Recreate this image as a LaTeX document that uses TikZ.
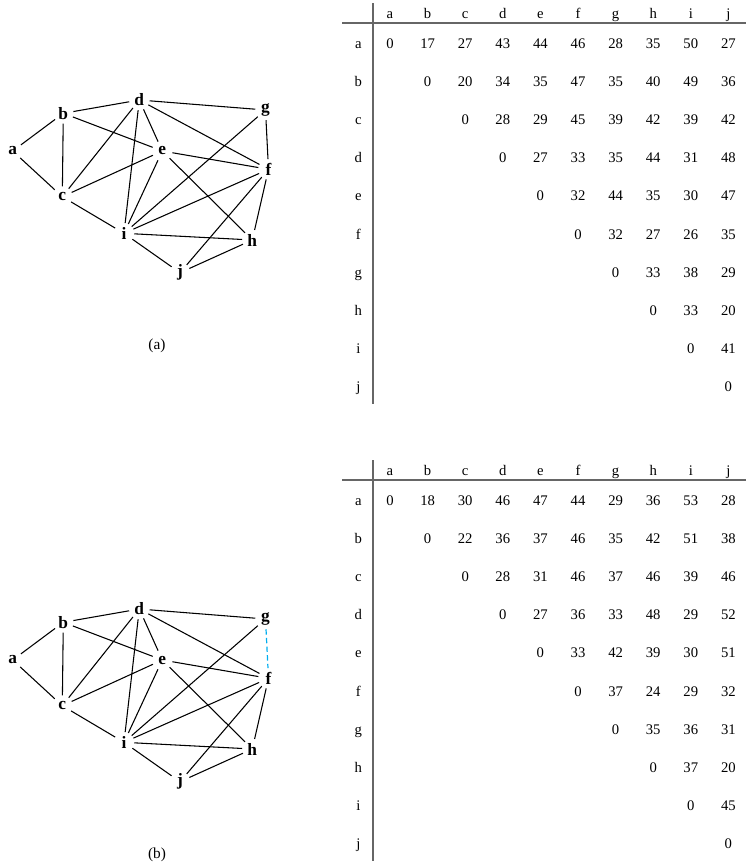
\documentclass[tikz,border=0pt]{standalone}
\usepackage{fontspec}
\setmainfont{Liberation Serif}
\usetikzlibrary{positioning}

\begin{document}
\begin{tikzpicture}[
        x=0.75pt, y=-0.75pt,
        vtx/.style={circle, inner sep=0pt, minimum size=15pt,
            font=\fontsize{13}{15}\selectfont\bfseries},
        edge/.style={line width=0.8pt},
        newedge/.style={cyan, line width=0.9pt, dash pattern=on 4pt off 2.5pt},
        cell/.style={anchor=base, inner sep=0pt, font=\fontsize{11}{13}\selectfont},
        rule/.style={draw=black!60, line width=1pt},
        capt/.style={font=\fontsize{11.5}{14}\selectfont}
    ]
    \useasboundingbox (0,0) rectangle (746,868);

    % the two graphs
    \foreach \p/\off in {ga/0, gb/509} {
        \foreach \n/\x/\y in {a/12.7/151, b/63.3/113.3, c/62.3/196.7, d/139.3/100,
                e/162.3/151, f/268.5/169.3, g/265.5/110, h/252.3/240,
                i/124/233.3, j/180/272.7}
            \node[vtx] (\p\n) at (\x,\y+\off) {\n};
        \foreach \u/\v in {a/b, a/c, b/c, b/d, b/e, c/d, c/e, c/i, d/g, d/e, d/f,
                d/i, e/f, e/i, e/h, g/i, f/i, f/j, f/h, i/h, i/j, j/h}
            \draw[edge] (\p\u) -- (\p\v);
    }
    \draw[edge] (gag) -- (gaf);
    \draw[newedge] (gbg) -- (gbf);

    \node[capt] (capa) at (157,346) {(a)};
    \node[capt] (capb) at (157,855) {(b)};

    % the two distance tables
    \foreach \t/\off/\rows in {
            ta/0/{a/{0,17,27,43,44,46,28,35,50,27}, b/{0,20,34,35,47,35,40,49,36},
                c/{0,28,29,45,39,42,39,42}, d/{0,27,33,35,44,31,48},
                e/{0,32,44,35,30,47}, f/{0,32,27,26,35}, g/{0,33,38,29},
                h/{0,33,20}, i/{0,41}, j/{0}},
            tb/457/{a/{0,18,30,46,47,44,29,36,53,28}, b/{0,22,36,37,46,35,42,51,38},
                c/{0,28,31,46,37,46,39,46}, d/{0,27,36,33,48,29,52},
                e/{0,33,42,39,30,51}, f/{0,37,24,29,32}, g/{0,35,36,31},
                h/{0,37,20}, i/{0,45}, j/{0}}} {
        \draw[rule] (373,3+\off) -- (373,404+\off);
        \draw[rule] (342,23+\off) -- (746,23+\off);
        \foreach \h [count=\hi from 0] in {a,b,c,d,e,f,g,h,i,j}
            \node[cell] (\t-top-\h) at (390+37.6*\hi,18.5+\off) {\h};
        \foreach \r/\vals [count=\ri from 0] in \rows {
            \node[cell] (\t-\r) at (358.3,48+38.2*\ri+\off) {\r};
            \foreach \v [count=\ci from \ri] in \vals
                \node[cell] (\t-\r-\ci) at (390+37.6*\ci,48+38.2*\ri+\off) {\v};
        }
    }
\end{tikzpicture}
\end{document}
